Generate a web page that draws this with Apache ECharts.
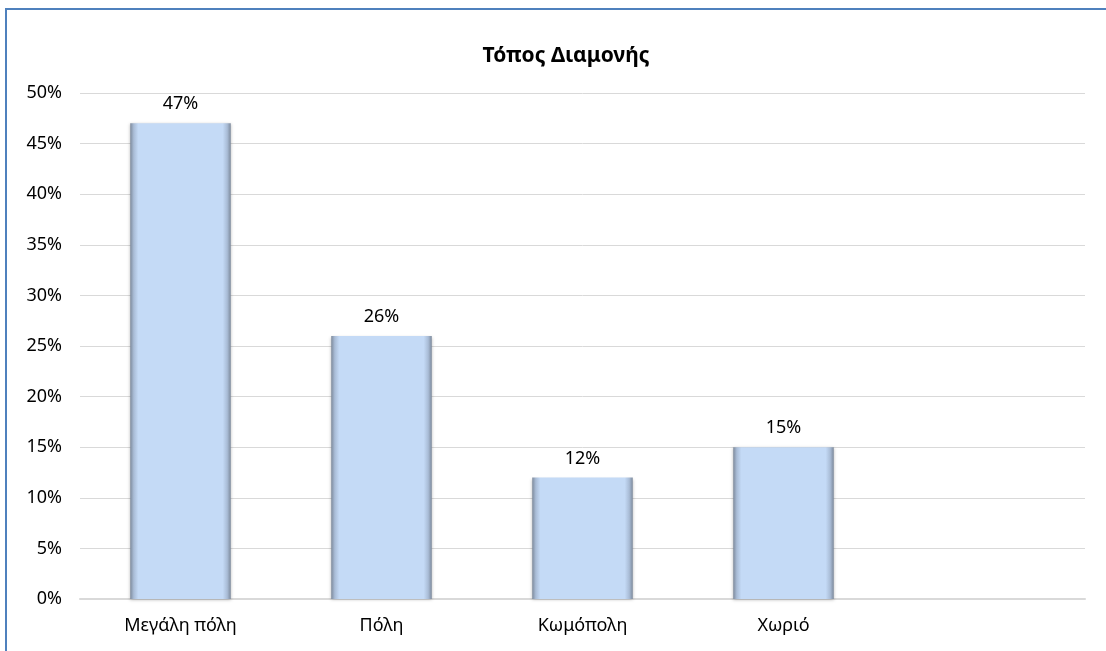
<!DOCTYPE html>
<html>
<head>
<meta charset="utf-8">
<script src="https://cdn.jsdelivr.net/npm/echarts@6/dist/echarts.min.js"></script>
<style>
html,body{margin:0;padding:0;background:#fff;}
#frame{position:absolute;left:5px;top:8px;width:1110px;height:660px;border-left:2px solid #4F81BD;border-top:2px solid #4F81BD;box-sizing:border-box;}
#chart{position:absolute;left:0;top:0;width:1106px;height:651px;}
</style>
</head>
<body>
<div id="frame"></div>
<div id="chart"></div>
<script>
const title = 'Τόπος Διαμονής';
const categories = ['Μεγάλη πόλη', 'Πόλη', 'Κωμόπολη', 'Χωριό', ''];
const values = [47, 26, 12, 15, null];
const yTicks = [0, 5, 10, 15, 20, 25, 30, 35, 40, 45, 50];

const chart = echarts.init(document.getElementById('chart'), null, {renderer: 'canvas'});
const font = '"Noto Sans", "Open Sans", sans-serif';
chart.setOption({
  backgroundColor: 'transparent',
  animation: false,
  title: {
    text: title,
    left: 561,
    top: 41,
    textAlign: 'center',
    textStyle: {fontFamily: font, fontSize: 21, fontWeight: 'bold', color: '#000'}
  },
  grid: {left: 80, right: 21, top: 93, bottom: 52, containLabel: false},
  xAxis: {
    type: 'category',
    data: categories,
    axisLine: {show: true, lineStyle: {color: '#D9D9D9', width: 2}},
    axisTick: {show: false},
    axisLabel: {fontFamily: font, fontSize: 18, color: '#000', margin: 18}
  },
  yAxis: {
    type: 'value',
    min: yTicks[0],
    max: yTicks[yTicks.length - 1],
    interval: 5,
    axisLine: {show: false},
    axisTick: {show: false},
    splitLine: {lineStyle: {color: '#D9D9D9', width: 1}},
    axisLabel: {fontFamily: font, fontSize: 18, color: '#000', margin: 18, formatter: v => v + '%'}
  },
  series: [{
    type: 'bar',
    data: values,
    barWidth: '50%',
    itemStyle: {
      color: new echarts.graphic.LinearGradient(0, 0, 1, 0, [
        {offset: 0, color: '#7d8a9c'},
        {offset: 0.035, color: '#a9bcd6'},
        {offset: 0.08, color: '#c4daf6'},
        {offset: 0.92, color: '#c4daf6'},
        {offset: 0.965, color: '#a9bcd6'},
        {offset: 1, color: '#7d8a9c'}
      ]),
      shadowColor: 'rgba(0,0,0,0.25)',
      shadowBlur: 3,
      shadowOffsetY: 1
    },
    label: {
      show: true,
      position: 'top',
      distance: 10,
      fontFamily: font,
      fontSize: 18,
      color: '#000',
      formatter: p => p.value + '%'
    }
  }]
});
</script>
</body>
</html>
